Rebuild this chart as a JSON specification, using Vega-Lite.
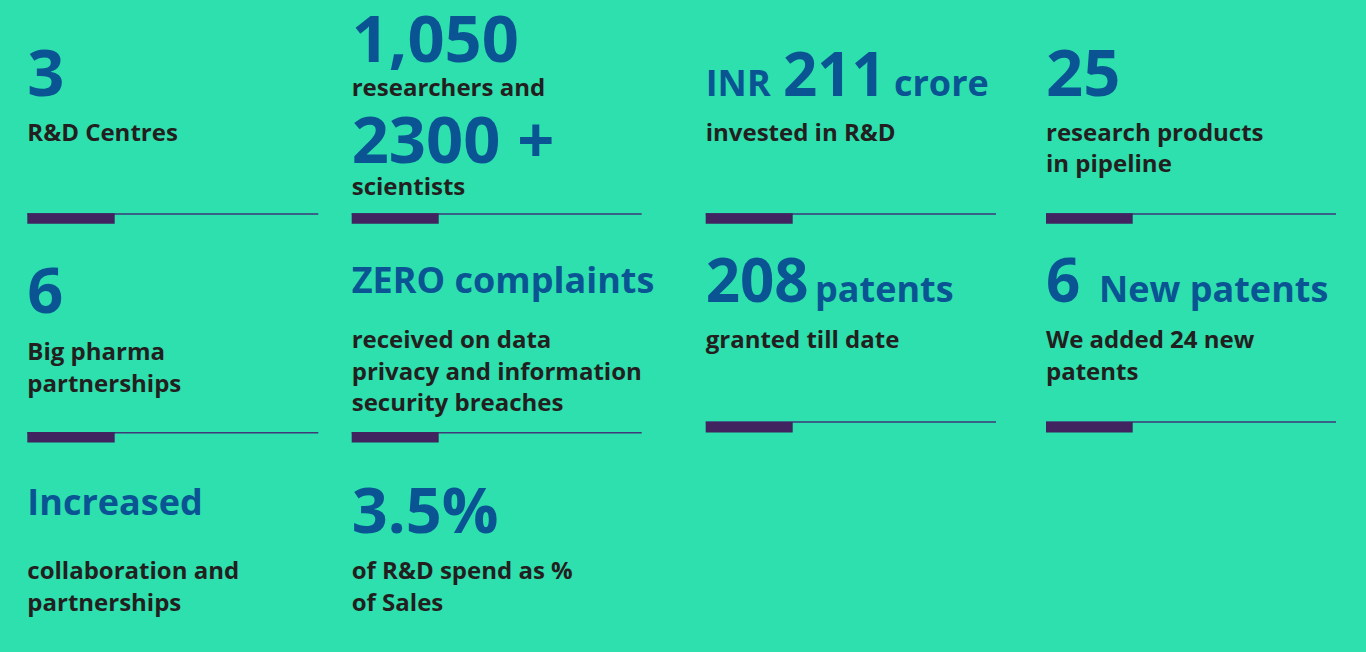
{
  "$schema": "https://vega.github.io/schema/vega-lite/v6.json",
  "width": 1366,
  "height": 652,
  "padding": 0,
  "autosize": {"type": "none"},
  "background": "#2DE0AE",
  "config": {"view": {"stroke": null}},
  "datasets": {
    "texts": [
      {"t": "3", "role": "num", "xs": 0, "yi": 1},
      {"t": "R&D Centres", "role": "body", "xs": 0, "yi": 2},
      {"t": "1,050", "role": "num", "xs": 3, "yi": 0},
      {"t": "researchers and", "role": "body", "xs": 3, "yi": 1},
      {"t": "2300 +", "role": "num", "xs": 3, "yi": 3},
      {"t": "scientists", "role": "body", "xs": 3, "yi": 5},
      {"t": "INR", "role": "word", "xs": 6, "yi": 1},
      {"t": "211", "role": "numS", "xs": 7, "yi": 1},
      {"t": "crore", "role": "word", "xs": 10, "yi": 1},
      {"t": "invested in R&D", "role": "body", "xs": 6, "yi": 2},
      {"t": "25", "role": "num", "xs": 12, "yi": 1},
      {"t": "research products", "role": "body", "xs": 12, "yi": 2},
      {"t": "in pipeline", "role": "body", "xs": 12, "yi": 4},
      {"t": "6", "role": "numM", "xs": 0, "yi": 10},
      {"t": "Big pharma", "role": "body", "xs": 0, "yi": 12},
      {"t": "partnerships", "role": "body", "xs": 0, "yi": 14},
      {"t": "ZERO complaints", "role": "word", "xs": 3, "yi": 8},
      {"t": "received on data", "role": "body", "xs": 3, "yi": 11},
      {"t": "privacy and information", "role": "body", "xs": 3, "yi": 13},
      {"t": "security breaches", "role": "body", "xs": 3, "yi": 15},
      {"t": "208", "role": "numS", "xs": 6, "yi": 9},
      {"t": "patents", "role": "word", "xs": 9, "yi": 9},
      {"t": "granted till date", "role": "body", "xs": 6, "yi": 11},
      {"t": "6", "role": "numS", "xs": 12, "yi": 9},
      {"t": "New patents", "role": "word", "xs": 13, "yi": 9},
      {"t": "We added 24 new", "role": "body", "xs": 12, "yi": 11},
      {"t": "patents", "role": "body", "xs": 12, "yi": 13},
      {"t": "Increased", "role": "word", "xs": 0, "yi": 20},
      {"t": "collaboration and", "role": "body", "xs": 0, "yi": 22},
      {"t": "partnerships", "role": "body", "xs": 0, "yi": 23},
      {"t": "3.5%", "role": "numM", "xs": 3, "yi": 21},
      {"t": "of R&D spend as %", "role": "body", "xs": 3, "yi": 22},
      {"t": "of Sales", "role": "body", "xs": 3, "yi": 23}
    ],
    "thin": [
      {"xs": 0, "xe": 2, "yi": 6},
      {"xs": 3, "xe": 5, "yi": 6},
      {"xs": 6, "xe": 11, "yi": 6},
      {"xs": 12, "xe": 15, "yi": 6},
      {"xs": 0, "xe": 2, "yi": 18},
      {"xs": 3, "xe": 5, "yi": 18},
      {"xs": 6, "xe": 11, "yi": 16},
      {"xs": 12, "xe": 15, "yi": 16}
    ],
    "thick": [
      {"xs": 0, "xe": 1, "yi": 7},
      {"xs": 3, "xe": 4, "yi": 7},
      {"xs": 6, "xe": 8, "yi": 7},
      {"xs": 12, "xe": 14, "yi": 7},
      {"xs": 0, "xe": 1, "yi": 19},
      {"xs": 3, "xe": 4, "yi": 19},
      {"xs": 6, "xe": 8, "yi": 17},
      {"xs": 12, "xe": 14, "yi": 17}
    ]
  },
  "encoding": {
    "x": {
      "field": "xs",
      "type": "quantitative",
      "axis": null,
      "scale": {
        "domain": [0, 1, 2, 3, 4, 5, 6, 7, 8, 9, 10, 11, 12, 13, 14, 15],
        "range": [27.3, 114.7, 318.3, 351.7, 438.7, 641.7, 705.7, 783, 792.7, 815, 894, 996, 1046, 1099, 1132.7, 1336],
        "nice": false,
        "zero": false
      }
    },
    "y": {
      "field": "yi",
      "type": "quantitative",
      "axis": null,
      "scale": {
        "domain": [0, 1, 2, 3, 4, 5, 6, 7, 8, 9, 10, 11, 12, 13, 14, 15, 16, 17, 18, 19, 20, 21, 22, 23],
        "range": [62, 95.5, 140.5, 163, 172, 195, 214, 218.5, 292.5, 301.5, 313, 348, 360, 380, 392, 411, 422, 427.3, 432.7, 437.3, 514.5, 533, 579, 611],
        "nice": false,
        "zero": false
      }
    }
  },
  "layer": [
    {
      "data": {"name": "thin"},
      "mark": {"type": "rule", "color": "#3E3A78", "strokeWidth": 1.6},
      "encoding": {"x2": {"field": "xe"}}
    },
    {
      "data": {"name": "thick"},
      "mark": {"type": "rule", "color": "#40235F", "strokeWidth": 10.6, "strokeCap": "butt"},
      "encoding": {"x2": {"field": "xe"}}
    },
    {
      "data": {"name": "texts"},
      "mark": {"type": "text", "align": "left", "baseline": "alphabetic", "font": "Open Sans", "fontWeight": "bold"},
      "encoding": {
        "text": {"field": "t"},
        "size": {
          "field": "role",
          "type": "ordinal",
          "legend": null,
          "scale": {"type": "ordinal", "domain": ["num", "numM", "numS", "word", "body"], "range": [65, 63, 60, 36, 24]}
        },
        "color": {
          "field": "role",
          "type": "nominal",
          "legend": null,
          "scale": {"domain": ["num", "numM", "numS", "word", "body"], "range": ["#0A5494", "#0A5494", "#0A5494", "#0A5494", "#231F20"]}
        }
      }
    }
  ]
}
